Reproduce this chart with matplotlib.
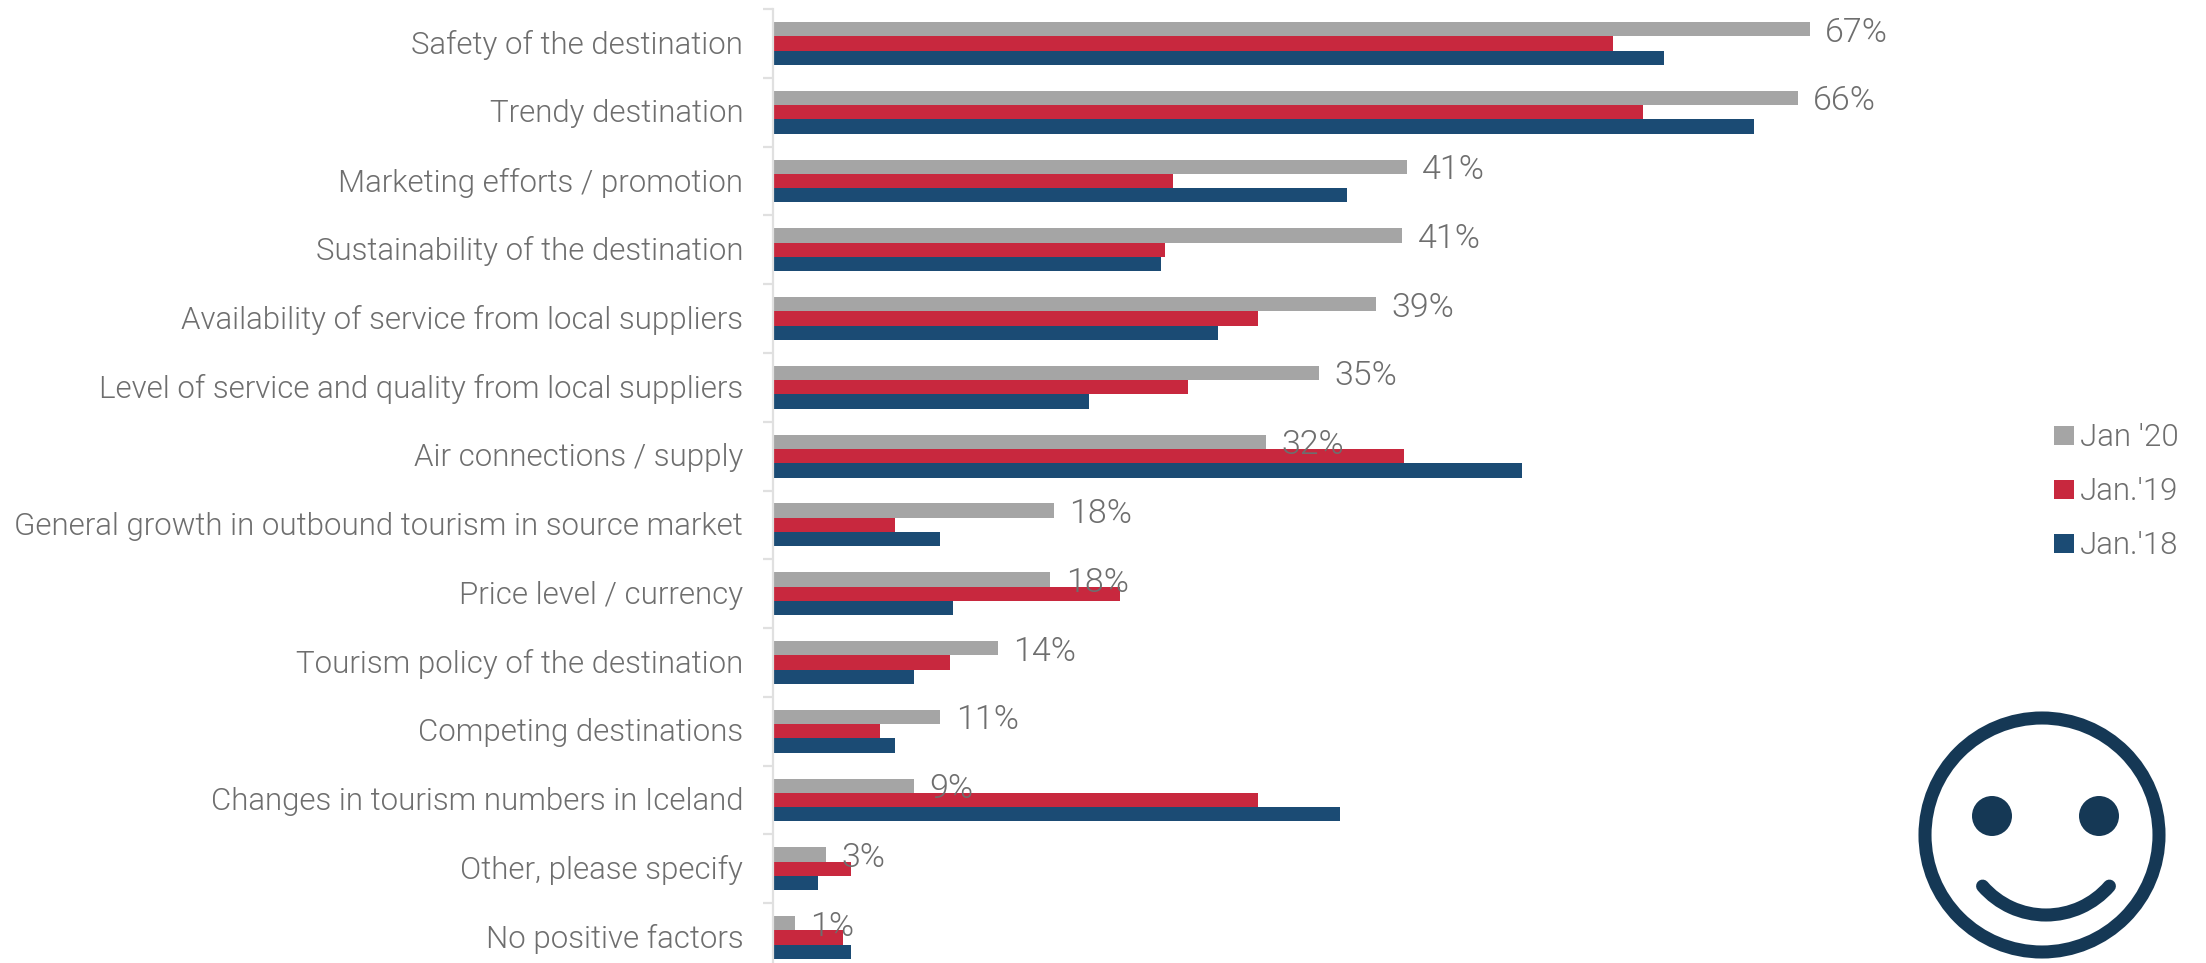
import numpy as np
import matplotlib
matplotlib.use("Agg")
import matplotlib.pyplot as plt
from matplotlib.patches import Circle, Arc
from matplotlib.transforms import ScaledTranslation

plt.rcParams['font.family'] = ['Roboto', 'Liberation Sans', 'DejaVu Sans']
plt.rcParams['font.weight'] = 300

categories = ["Safety of the destination", "Trendy destination", "Marketing efforts / promotion",
              "Sustainability of the destination", "Availability of service from local suppliers",
              "Level of service and quality from local suppliers", "Air connections / supply",
              "General growth in outbound tourism in source market", "Price level / currency",
              "Tourism policy of the destination", "Competing destinations",
              "Changes in tourism numbers in Iceland", "Other, please specify", "No positive factors"]
jan20 = [66.9, 66.1, 40.9, 40.6, 38.9, 35.2, 31.8, 18.1, 17.9, 14.5, 10.8, 9.1, 3.4, 1.4]
jan19 = [54.2, 56.1, 25.8, 25.3, 31.3, 26.8, 40.7, 7.9, 22.4, 11.4, 6.9, 31.3, 5.0, 4.5]
jan18 = [57.5, 63.3, 37.0, 25.0, 28.7, 20.4, 48.3, 10.8, 11.6, 9.1, 7.9, 36.6, 2.9, 5.0]
value_labels = ["67%", "66%", "41%", "41%", "39%", "35%", "32%", "18%", "18%", "14%", "11%", "9%", "3%", "1%"]
series_names = ["Jan '20", "Jan.'19", "Jan.'18"]

GREY = "#a5a5a5"
RED = "#c8283e"
BLUE = "#1b4b74"
TEXT = "#6e6e6e"
W, H = 2206, 963

fig = plt.figure(figsize=(W / 100, H / 100), dpi=100)
# the plot runs slightly past the bottom edge of the picture, same as the original
ax = fig.add_axes([773 / W, (H - 972) / H, 1240 / W, 963 / H])

y = np.arange(len(categories))
h = 0.208
b1 = ax.barh(y - h, jan20, h, color=GREY, label=series_names[0])
b2 = ax.barh(y, jan19, h, color=RED, label=series_names[1])
b3 = ax.barh(y + h, jan18, h, color=BLUE, label=series_names[2])

ax.set_xlim(0, 80)
ax.set_ylim(len(categories) - 0.5, -0.5)

for yi, v, lab in zip(y, jan20, value_labels):
    ax.annotate(lab, (v, yi - h), xytext=(11, -2.5), textcoords="offset points",
                va="center", ha="left", fontsize=24.5, color=TEXT)

for s in ["top", "right", "bottom"]:
    ax.spines[s].set_visible(False)
ax.spines["left"].set_color("#e0e0e0")
ax.spines["left"].set_linewidth(1.6)
ax.xaxis.set_visible(False)
ax.set_yticks(y)
ax.set_yticklabels(categories, fontsize=22.5, color=TEXT)
ax.tick_params(axis="y", which="major", length=0, pad=21.5)
ax.set_yticks(np.arange(len(categories) + 1) - 0.5, minor=True)
ax.tick_params(axis="y", which="minor", length=7.5, width=1.6, color="#e0e0e0")
# nudge labels up a touch
nudge = ScaledTranslation(0, 1 / 72, fig.dpi_scale_trans)
for lab in ax.get_yticklabels():
    lab.set_transform(lab.get_transform() + nudge)

fig.legend(handles=[b1, b2, b3], loc="center right", bbox_to_anchor=(2179 / W, 1 - 492 / H),
           frameon=False, fontsize=22.5, labelcolor=TEXT, handlelength=0.64, handleheight=0.6,
           handletextpad=0.2, labelspacing=0.8, borderpad=0, borderaxespad=0)

# smiley, in picture pixels
ov = fig.add_axes([0, 0, 1, 1])
ov.set_xlim(0, W)
ov.set_ylim(H, 0)
ov.axis("off")
ov.patch.set_alpha(0)
FACE = "#153855"
ov.add_patch(Circle((2042, 835), 117, fill=False, ec=FACE, lw=9.4))
ov.add_patch(Circle((1992, 816), 20, fc=FACE, ec="none"))
ov.add_patch(Circle((2099, 816), 20, fc=FACE, ec="none"))
ov.add_patch(Arc((2046, 831), 168, 168, theta1=41, theta2=139, ec=FACE, lw=9.4, capstyle="round"))

fig.savefig("out.png", dpi=100)
